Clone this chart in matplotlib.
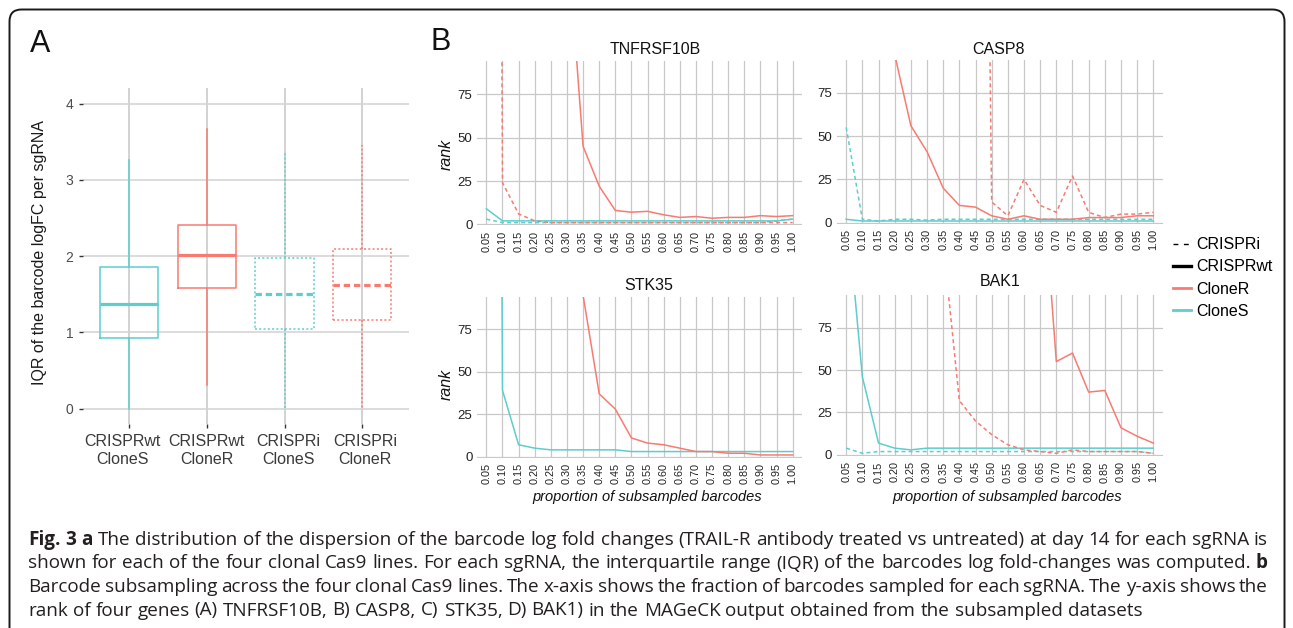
import matplotlib as mpl
mpl.use('Agg')
import matplotlib.pyplot as plt
import numpy as np
from matplotlib.lines import Line2D
from matplotlib.patches import FancyBboxPatch
from matplotlib.transforms import IdentityTransform, ScaledTranslation

W, H = 1293, 628
plt.rcParams['font.family'] = ['Liberation Sans', 'DejaVu Sans']

SALMON = '#f87b71'
CYAN = '#5ecdcd'

# ---- panel A: IQR boxplots ----
box_labels = ['CRISPRwt\nCloneS', 'CRISPRwt\nCloneR', 'CRISPRi\nCloneS', 'CRISPRi\nCloneR']
box_q1 = [0.93, 1.58, 1.05, 1.16]
box_med = [1.37, 2.01, 1.51, 1.62]
box_q3 = [1.86, 2.41, 1.98, 2.09]
box_lo = [0.0, 0.31, 0.0, 0.0]
box_hi = [3.26, 3.67, 3.37, 3.46]
box_clone = ['S', 'R', 'S', 'R']
box_lib = ['wt', 'wt', 'i', 'i']

# ---- panel B: rank vs proportion of subsampled barcodes ----
props = ['0.05', '0.10', '0.15', '0.20', '0.25', '0.30', '0.35', '0.40', '0.45', '0.50',
         '0.55', '0.60', '0.65', '0.70', '0.75', '0.80', '0.85', '0.90', '0.95', '1.00']
genes = ['TNFRSF10B', 'CASP8', 'STK35', 'BAK1']

tnf_wt_R = [600, 520, 450, 380, 300, 170, 45, 22, 8, 7, 7.5, 5.5, 4, 4.5, 3.5, 4, 4, 5, 4.5, 5]
tnf_i_R = [2000, 24, 6, 2, 1, 1, 1, 1, 1, 1, 1, 1, 1, 1, 1, 1, 1, 1, 1, 1]
tnf_wt_S = [9, 2, 2, 2, 2, 2, 2, 2, 2, 2, 2, 2, 2, 2, 2, 2, 2, 2, 2, 3]
tnf_i_S = [3, 1, 1, 1, 1, 1, 1, 1, 1, 1, 1, 1, 1, 1, 1, 1, 1, 1, 2, 3]

casp_wt_R = [500, 400, 300, 97, 56, 41, 20, 10, 9, 4, 2, 4, 2, 2, 2, 3, 3, 3, 4, 4]
casp_i_R = [3000, 2500, 2000, 1500, 1200, 1000, 900, 850, 800, 12, 4, 25, 10, 6, 27, 6, 3, 5, 5, 6]
casp_wt_S = [2, 1, 1, 1, 1, 1, 1, 1, 1, 1, 1, 1, 1, 1, 1, 1, 1, 1, 1, 1]
casp_i_S = [55, 2, 1, 2, 2, 1.5, 2, 2, 2, 2, 2, 2, 2, 2, 2, 2, 2, 2, 2, 2]

stk_wt_R = [900, 800, 700, 500, 300, 200, 95, 37, 28, 11, 8, 7, 5, 3, 3, 2, 2, 1, 1, 1]
stk_i_R = [np.nan] * 20
stk_wt_S = [2000, 39, 7, 5, 4, 4, 4, 4, 4, 3, 3, 3, 3, 3, 3, 3, 3, 3, 3, 3]
stk_i_S = [np.nan] * 20

bak_wt_R = [400, 380, 360, 340, 320, 300, 280, 260, 240, 220, 210, 200, 183, 55, 60, 37, 38, 16, 11, 7]
bak_i_R = [300, 250, 200, 180, 160, 140, 125, 32, 20, 12, 6, 3, 2, 1, 3, 2, 2, 2, 2, 1]
bak_wt_S = [150, 46, 7, 4, 3, 4, 4, 4, 4, 4, 4, 4, 4, 4, 4, 4, 4, 4, 4, 4]
bak_i_S = [4, 1, 2, 2, 2, 2, 2, 2, 2, 2, 2, 2, 2, 2, 2, 2, 2, 2, 2, 1]

gene_series = {
    'TNFRSF10B': (tnf_wt_R, tnf_i_R, tnf_wt_S, tnf_i_S),
    'CASP8': (casp_wt_R, casp_i_R, casp_wt_S, casp_i_S),
    'STK35': (stk_wt_R, stk_i_R, stk_wt_S, stk_i_S),
    'BAK1': (bak_wt_R, bak_i_R, bak_wt_S, bak_i_S),
}

caption = [
    [('Fig. 3 a', True), ('The distribution of the dispersion of the barcode log fold changes (TRAIL-R antibody '
                          'treated vs untreated) at day 14 for each sgRNA is', False)],
    [('shown for each of the four clonal Cas9 lines. For each sgRNA, the interquartile range (IQR) of the '
      'barcodes log fold-changes was computed.', False), ('b', True)],
    [('Barcode subsampling across the four clonal Cas9 lines. The x-axis shows the fraction of barcodes '
      'sampled for each sgRNA. The y-axis shows the', False)],
    [('rank of four genes (A) TNFRSF10B, B) CASP8, C) STK35, D) BAK1) in the MAGeCK output obtained from '
      'the subsampled datasets', False)],
]


def px_rect(left, top, right, bottom):
    return [left / W, 1 - bottom / H, (right - left) / W, (bottom - top) / H]


fig = plt.figure(figsize=(W / 100, H / 100), dpi=100)

# outer rounded frame
frame = FancyBboxPatch((9.5, -40), 1275, H - 9.5 + 40, boxstyle='round,pad=0,rounding_size=12',
                       transform=IdentityTransform(), fill=False, ec='#1a1a1a', lw=1.4)
fig.add_artist(frame)

# ---------- panel A ----------
axA = fig.add_axes(px_rect(82.7, 88.3, 408.7, 424))
stats = [dict(label=l, q1=a, med=m, q3=b, whislo=lo, whishi=hi)
         for l, a, m, b, lo, hi in zip(box_labels, box_q1, box_med, box_q3, box_lo, box_hi)]
art = axA.bxp(stats, positions=np.arange(1, 5), widths=0.75, showfliers=False, showcaps=False)
for i in range(4):
    col = SALMON if box_clone[i] == 'R' else CYAN
    dotted = box_lib[i] == 'i'
    box = art['boxes'][i]
    box.set_color(col)
    box.set_linewidth(1.1)
    if dotted:
        box.set_linestyle((0, (1.3, 1.5)))
    med = art['medians'][i]
    med.set_color(col)
    med.set_linewidth(2.3)
    if dotted:
        med.set_linestyle((0, (2.0, 1.2)))
    for wk in art['whiskers'][2 * i:2 * i + 2]:
        wk.set_color(col)
        wk.set_linewidth(1.1)
        if dotted:
            wk.set_linestyle((0, (1.3, 1.5)))
axA.set_xlim(0.4, 4.6)
axA.set_ylim(-0.2, 4.2)
axA.set_yticks([0, 1, 2, 3, 4])
axA.set_xticks(np.arange(1, 5))
axA.set_xticklabels(box_labels)
for s in axA.spines.values():
    s.set_visible(False)
axA.yaxis.grid(True, color='#d2d2d2', lw=1.1)
axA.xaxis.grid(True, color='#c6c6c6', lw=1.1)
axA.set_axisbelow(True)
axA.tick_params(axis='y', length=3.2, width=1.0, color='#333333', pad=3.5, labelsize=10, labelcolor='#4d4d4d')
axA.tick_params(axis='x', length=2.8, width=1.0, color='#333333', pad=4.5, labelsize=11.5, labelcolor='#3a3a3a')
# small horizontal nudges of the category labels, as in the original
for lab, dx in zip(axA.get_xticklabels(), [-7, 0, 4, 3]):
    lab.set_transform(lab.get_transform() + ScaledTranslation(dx / 100, 0, fig.dpi_scale_trans))
fig.text(39.3 / W, 1 - 253 / H, 'IQR of the barcode logFC per sgRNA', rotation=90,
         ha='center', va='center', fontsize=11.5, color='#1a1a1a')
fig.text(40 / W, 1 - 43.5 / H, 'A', ha='center', va='center', fontsize=22, color='#111111')

# ---------- panel B ----------
fig.text(441 / W, 1 - 42 / H, 'B', ha='center', va='center', fontsize=22, color='#111111')
b_boxes = {
    'TNFRSF10B': (476.7, 61.4, 802.3, 225.2),
    'CASP8': (836.5, 59.8, 1163.0, 223.6),
    'STK35': (476.7, 297.0, 802.3, 457.5),
    'BAK1': (836.5, 295.3, 1163.0, 455.8),
}
title_pos = {'TNFRSF10B': (655, 50), 'CASP8': (998.5, 50), 'STK35': (649, 285.5), 'BAK1': (1000, 282)}
xpos = np.arange(1, len(props) + 1)
for g in genes:
    ax = fig.add_axes(px_rect(*b_boxes[g]))
    wt_R, i_R, wt_S, i_S = gene_series[g]
    ax.plot(xpos, wt_S, color=CYAN, lw=1.1)
    ax.plot(xpos, i_S, color=CYAN, lw=1.1, ls=(0, (2.6, 2.0)))
    ax.plot(xpos, wt_R, color=SALMON, lw=1.1)
    ax.plot(xpos, i_R, color=SALMON, lw=1.1, ls=(0, (2.6, 2.0)))
    ax.set_xlim(0.4, len(props) + 0.6)
    ax.set_ylim(-0.5, 94)
    ax.set_yticks([0, 25, 50, 75])
    ax.set_xticks(xpos)
    ax.set_xticklabels(props, rotation=90)
    for s in ax.spines.values():
        s.set_visible(False)
    ax.grid(True, color='#c8c8c8', lw=0.9)
    ax.set_axisbelow(True)
    ax.tick_params(axis='y', length=0, pad=3, labelsize=9.5, labelcolor='#222222')
    ax.tick_params(axis='x', length=0, pad=4, labelsize=7.8, labelcolor='#222222')
    tx, ty = title_pos[g]
    fig.text(tx / W, 1 - ty / H, g, ha='center', va='center', fontsize=11.5, color='#111111')

for y in (154, 384):
    fig.text(446 / W, 1 - y / H, 'rank', rotation=90, ha='center', va='center',
             fontsize=11.5, style='italic', color='#111111')
for x in (647, 1007):
    fig.text(x / W, 1 - 497.5 / H, 'proportion of subsampled barcodes', ha='center', va='center',
             fontsize=10.5, style='italic', color='#111111')

handles = [Line2D([], [], color='black', lw=1.0, ls=(0, (3.5, 4))),
           Line2D([], [], color='black', lw=2.4),
           Line2D([], [], color=SALMON, lw=2.0),
           Line2D([], [], color=CYAN, lw=2.0)]
fig.legend(handles, ['CRISPRi', 'CRISPRwt', 'CloneR', 'CloneS'], loc='center left',
           bbox_to_anchor=(1173 / W, 1 - 278 / H), frameon=False, fontsize=11.5,
           handlelength=1.15, handletextpad=0.3, labelspacing=0.45, borderpad=0, borderaxespad=0)

# ---------- caption ----------
cap_font = ['Open Sans', 'Liberation Sans']
renderer = fig.canvas.get_renderer()


def text_w(s, size, bold):
    t = fig.text(0, 0, s, fontsize=size, fontweight='bold' if bold else 'normal', family=cap_font)
    w = t.get_window_extent(renderer).width
    t.remove()
    return w


cap_words = []
for line in caption:
    words = []
    for seg, bold in line:
        words += [(w, bold) for w in seg.split(' ')]
    cap_words.append(words)

x_left, x_right = 28, 1268
target = x_right - x_left
base = 10.0
sp = text_w('x x', base, False) - text_w('xx', base, False)
nat = sum(text_w(w, base, b) for w, b in cap_words[0]) + sp * (len(cap_words[0]) - 1)
cap_size = base * target / nat
sp = sp * cap_size / base

for k, words in enumerate(cap_words):
    widths = [text_w(w, cap_size, b) for w, b in words]
    if k < len(cap_words) - 1:
        gap = (target - sum(widths)) / (len(words) - 1)
    else:
        gap = sp
    x = x_left
    yb = 545 + 23.5 * k
    for (w, b), wd in zip(words, widths):
        fig.text(x / W, 1 - yb / H, w, fontsize=cap_size, fontweight='bold' if b else 'normal',
                 family=cap_font, ha='left', va='baseline', color='#231f20')
        x += wd + gap

fig.savefig('out.png', dpi=100)
